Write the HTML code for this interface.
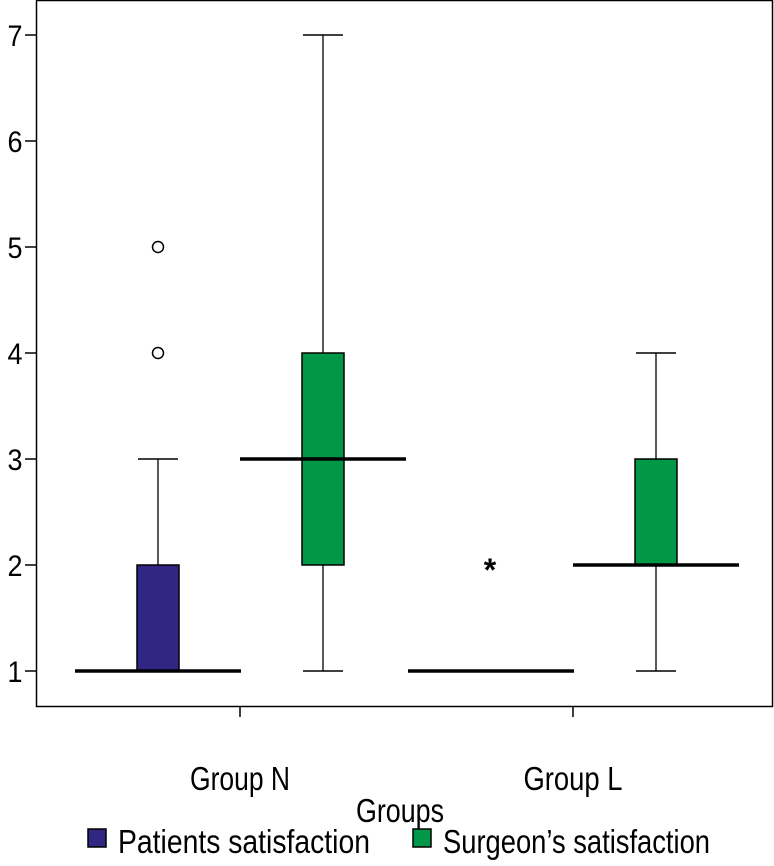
<!DOCTYPE html>
<html><head><meta charset="utf-8"><style>
body{margin:0;background:#fff;}
svg text{font-family:"Liberation Sans",sans-serif;fill:#000;}
</style></head><body>
<svg width="774" height="861">
<g id="g"></g>
</svg>
<script>
const groups=["Group N","Group L"];
const series=["Patients satisfaction","Surgeon\u2019s satisfaction"];
const colors=["#312783","#009846"];
const yTicks=[1,2,3,4,5,6,7];
// [group] = [min,q1,median,q3,max]
const patStats=[[1,1,1,2,3],[1,1,1,1,1]];
const surStats=[[1,2,3,4,7],[1,2,2,3,4]];
const outliers=[[0,0,4],[0,0,5]];
const extremes=[[1,0,2]];
const NS="http://www.w3.org/2000/svg";
const g=document.getElementById('g');
function y(v){return 671-(v-1)*106;}
const gx=[240,573],off=[-82,83];
function el(t,a,p){const e=document.createElementNS(NS,t);for(const k in a)e.setAttribute(k,a[k]);(p||g).appendChild(e);return e;}
let e=el('rect',{x:36.5,y:0.5,width:736,height:706,fill:'none',stroke:'#000','stroke-width':1.5});

yTicks.forEach(t=>{
 let l=el('line',{x1:25,x2:36,y1:y(t),y2:y(t),stroke:'#000','stroke-width':1.5});
 
 let tx=el('text',{x:15,y:y(t)+11,'font-size':30,'text-anchor':'middle',textLength:15,lengthAdjust:'spacingAndGlyphs'});tx.textContent=t;
 
});
const gw=[100,99];
groups.forEach((gn,i)=>{
 let l=el('line',{x1:gx[i],x2:gx[i],y1:706,y2:717,stroke:'#000','stroke-width':1.5});
 
 let tx=el('text',{x:gx[i]-gw[i]/2,y:790,'font-size':33,textLength:gw[i],lengthAdjust:'spacingAndGlyphs'});tx.textContent=gn;
 
});
function box(s,cx,col,name){
 const [mn,q1,md,q3,mx]=s;
 const w=42,cw=40;
 let wl=el('line',{x1:cx,x2:cx,y1:y(mx),y2:y(mn),stroke:'#000','stroke-width':1.3});
 
 [mn,mx].forEach(v=>{let c=el('line',{x1:cx-cw/2,x2:cx+cw/2,y1:y(v),y2:y(v),stroke:'#000','stroke-width':1.5});
  });
 if(q3>q1){let r=el('rect',{x:cx-w/2,y:y(q3),width:w,height:y(q1)-y(q3),fill:col,stroke:'#000','stroke-width':1.5});
  }
 let m=el('line',{x1:cx-83,x2:cx+83,y1:y(md),y2:y(md),stroke:'#000','stroke-width':3.5});
 
}
groups.forEach((gn,i)=>{
 box(patStats[i],gx[i]+off[0],colors[0],'patients-'+(i?'l':'n'));
 box(surStats[i],gx[i]+off[1],colors[1],'surgeon-'+(i?'l':'n'));
});
outliers.forEach(o=>{let c=el('circle',{cx:gx[o[0]]+off[o[1]],cy:y(o[2]),r:5.5,fill:'#fff',stroke:'#000','stroke-width':1.5});
 });
extremes.forEach(o=>{let t=el('text',{x:gx[o[0]]+off[o[1]]-1,y:y(o[2])+16,'font-size':32,'text-anchor':'middle','font-weight':'bold'});t.textContent='*';
 });
let xt=el('text',{x:356,y:822,'font-size':33,textLength:88,lengthAdjust:'spacingAndGlyphs'});xt.textContent='Groups';

const lx=[88,413],tw=[252,267];
series.forEach((s,i)=>{
 let r=el('rect',{x:lx[i],y:829,width:18,height:18,fill:colors[i],stroke:'#000','stroke-width':1.5});
 
 let t=el('text',{x:lx[i]+30,y:853,'font-size':33,textLength:tw[i],lengthAdjust:'spacingAndGlyphs'});t.textContent=s;
 
});
</script>
</body></html>
